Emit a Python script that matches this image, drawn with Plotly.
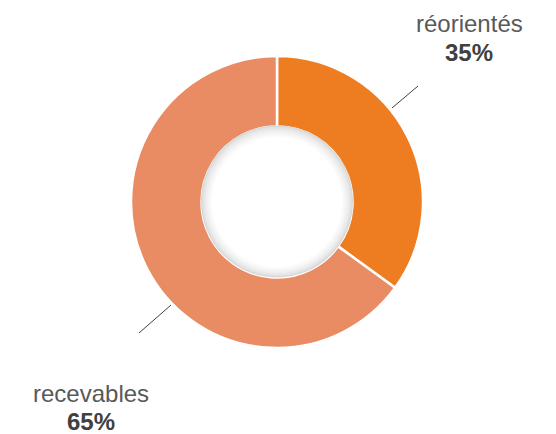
import plotly.graph_objects as go

# Répartition des dossiers
categories = ["réorientés", "recevables"]
values = [35, 65]
colors = ["#EE7D22", "#E98B63"]

W, H = 556, 434
CX, CY, R_OUT, R_IN = 277, 202, 146, 75.5


def px(x):
    return x / W


def py(y):
    return (H - y) / H


fig = go.Figure(
    go.Pie(
        labels=categories,
        values=values,
        hole=R_IN / R_OUT,
        sort=False,
        direction="clockwise",
        rotation=0,
        textinfo="none",
        hoverinfo="label+percent",
        marker=dict(colors=colors, line=dict(color="white", width=2.5)),
        domain=dict(x=[px(CX - R_OUT), px(CX + R_OUT)],
                    y=[py(CY + R_OUT), py(CY - R_OUT)]),
        showlegend=False,
    )
)

# Soft inner shadow around the hole
shapes = []
steps = 12
for k in range(steps):
    r = R_IN + 0.5 - k * 1.0
    t = k / (steps - 1)
    g = int(214 + (255 - 214) * (t ** 0.6))
    shapes.append(dict(
        type="circle", xref="paper", yref="paper",
        xsizemode="pixel", ysizemode="pixel",
        xanchor=px(CX), yanchor=py(CY - 0.5 + k * 0.05),
        x0=-r, x1=r, y0=-r, y1=r,
        fillcolor=f"rgb({g},{g},{g})", line=dict(width=0), layer="above",
    ))

# Leader lines
for (x0, y0, x1, y1) in [(392, 108, 418, 86), (139, 333, 171, 305)]:
    shapes.append(dict(type="line", xref="paper", yref="paper",
                       x0=px(x0), y0=py(y0), x1=px(x1), y1=py(y1),
                       line=dict(color="#404040", width=1)))

fig.update_layout(shapes=shapes)

# Outside labels: name + percentage
total = sum(values)
label_pos = [(469, 23, 52), (91, 393, 421)]
for name, v, (lx, ly_name, ly_pct) in zip(categories, values, label_pos):
    fig.add_annotation(x=px(lx), y=py(ly_name), xref="paper", yref="paper",
                       text=name, showarrow=False, xanchor="center", yanchor="middle",
                       font=dict(family="Liberation Sans, Arial", size=24, color="#595959"))
    fig.add_annotation(x=px(lx), y=py(ly_pct), xref="paper", yref="paper",
                       text=f"<b>{round(100 * v / total)}%</b>", showarrow=False,
                       xanchor="center", yanchor="middle",
                       font=dict(family="Liberation Sans, Arial", size=24, color="#404040"))

fig.update_layout(
    width=W, height=H,
    margin=dict(l=0, r=0, t=0, b=0),
    paper_bgcolor="white", plot_bgcolor="white",
)

fig.write_html("out.html")
